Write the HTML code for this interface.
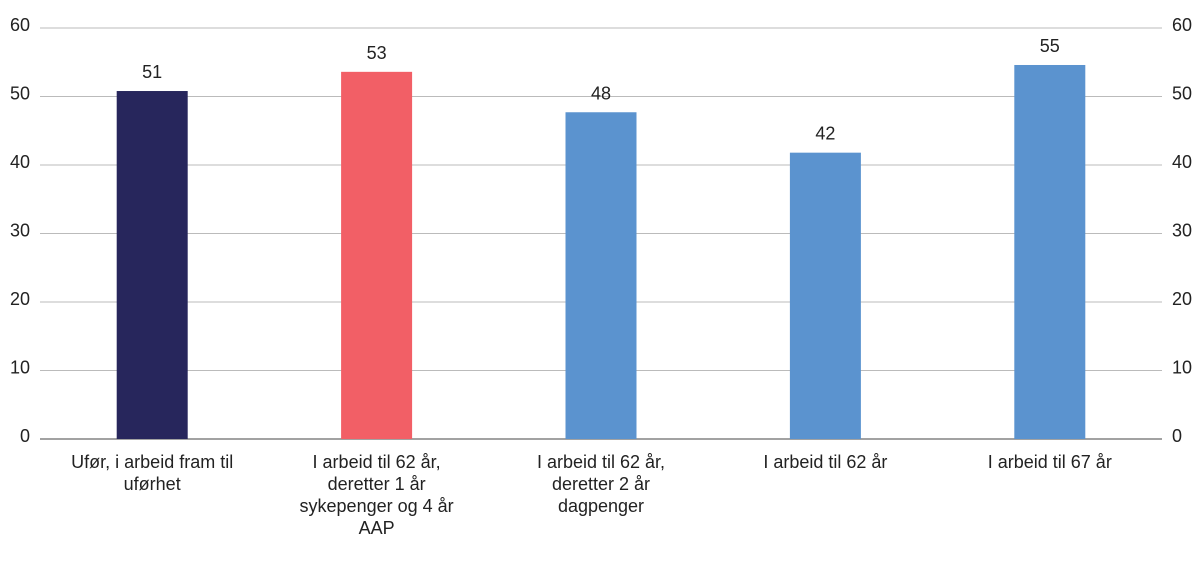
<!DOCTYPE html>
<html><head><meta charset="utf-8"><style>
body{margin:0;background:#fff;}
svg text{font-family:"Liberation Sans",sans-serif;font-size:18px;fill:#222;}
</style></head><body>
<svg id="chart" width="1200" height="558" xmlns="http://www.w3.org/2000/svg"></svg>
<script>
const categories=[["Ufør, i arbeid fram til","uførhet"],["I arbeid til 62 år,","deretter 1 år","sykepenger og 4 år","AAP"],["I arbeid til 62 år,","deretter 2 år","dagpenger"],["I arbeid til 62 år"],["I arbeid til 67 år"]];
const values=[50.8,53.6,47.7,41.8,54.6];
const valueLabels=["51","53","48","42","55"];
const ticks=[0,10,20,30,40,50,60];
const colors=["#27265c","#f25f66","#5b93cf","#5b93cf","#5b93cf"];
const svg=document.getElementById('chart');const NS="http://www.w3.org/2000/svg";
const x0=40,x1=1162,yBase=439,yTop=28,yMax=60;
const y=v=>yBase-(v/yMax)*(yBase-yTop);
const band=(x1-x0)/categories.length;
const cx=i=>x0+band*(i+0.5);
function mk(t,a){const e=document.createElementNS(NS,t);for(const k in a)e.setAttribute(k,a[k]);svg.appendChild(e);return e;}
ticks.forEach(t=>{
 const l=mk('line',{x1:x0,x2:x1,y1:y(t),y2:y(t),stroke:t===0?'#444':'#bbb','stroke-width':1});
 
 
 const a=mk('text',{x:30,y:y(t)+3,'text-anchor':'end'});a.textContent=t;
 
 
 const b=mk('text',{x:1172,y:y(t)+3,'text-anchor':'start'});b.textContent=t;
 
 
});
values.forEach((v,i)=>{
 const r=mk('rect',{x:cx(i)-35.5,y:y(v),width:71,height:yBase-y(v),fill:colors[i]});
 
 
 const t=mk('text',{x:cx(i),y:y(v)-13,'text-anchor':'middle'});t.textContent=valueLabels[i];
 
 
 categories[i].forEach((line,j)=>{
  const c=mk('text',{x:cx(i),y:468+j*22,'text-anchor':'middle'});c.textContent=line;
  
  
 });
});
</script>
</body></html>
